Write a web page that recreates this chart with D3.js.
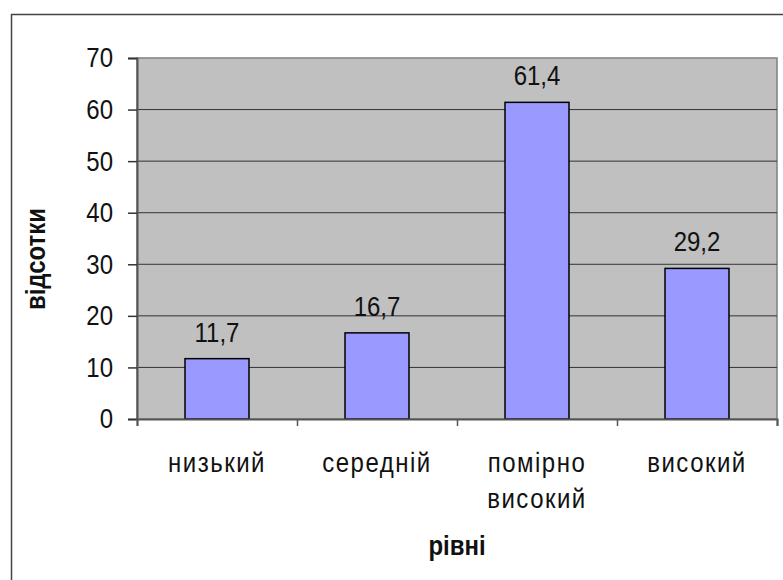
<!DOCTYPE html>
<html>
<head>
<meta charset="utf-8">
<script src="https://cdn.jsdelivr.net/npm/d3@7"></script>
<style>
  body { margin: 0; background: #fff; }
  svg { display: block; font-family: "Liberation Sans", Arial, sans-serif; }
</style>
</head>
<body>
<svg></svg>
<script>
const wSvg = 783, hSvg = 580;

const categories = [["низький"], ["середній"], ["помірно", "високий"], ["високий"]];
const values = [11.7, 16.7, 61.4, 29.2];
const valueLabels = ["11,7", "16,7", "61,4", "29,2"];
const yTicks = [0, 10, 20, 30, 40, 50, 60, 70];

const plot = { left: 137, right: 777, top: 58, bottom: 419 };
const fontSize = 24, stretch = 1.17;   // the old chart's text is slightly taller than wide

const svg = d3.select("svg")
    .attr("width", wSvg)
    .attr("height", hSvg);

// outer chart frame
svg.append("rect")
    .attr("x", 11.5).attr("y", 14.5)
    .attr("width", 800).attr("height", 600)
    .attr("fill", "#fff")
    .attr("stroke", "#444")
    .attr("stroke-width", 1.5);

const x = d3.scaleBand()
    .domain(d3.range(values.length))
    .range([plot.left, plot.right])
    .paddingInner(0.6)
    .paddingOuter(0.3);

const y = d3.scaleLinear()
    .domain([0, 70])
    .range([plot.bottom, plot.top]);

function label(g, tx, ty, str) {
    return g.append("text")
        .attr("transform", `translate(${tx},${ty}) scale(1,${stretch})`)
        .attr("text-anchor", "middle")
        .attr("font-size", fontSize)
        .attr("fill", "#111")
        .text(str);
}

// plot area
svg.append("rect")
    .attr("x", plot.left).attr("y", plot.top)
    .attr("width", plot.right - plot.left).attr("height", plot.bottom - plot.top)
    .attr("fill", "#c0c0c0")
    .attr("stroke", "#808080")
    .attr("stroke-width", 1.5);

// grid lines
svg.append("g")
    .selectAll("line")
    .data(yTicks.filter(d => d > 0 && d < 70))
    .enter()
    .append("line")
    .attr("x1", plot.left).attr("x2", plot.right)
    .attr("y1", d => y(d)).attr("y2", d => y(d))
    .attr("stroke", "#333")
    .attr("stroke-width", 1);

// bars
svg.append("g")
    .selectAll("rect")
    .data(values)
    .enter()
    .append("rect")
    .attr("x", (d, i) => x(i))
    .attr("width", x.bandwidth())
    .attr("y", d => y(d))
    .attr("height", d => y(0) - y(d))
    .attr("fill", "#9999ff")
    .attr("stroke", "#000")
    .attr("stroke-width", 1.5);

// value labels
const valG = svg.append("g");
values.forEach((d, i) => label(valG, x(i) + x.bandwidth() / 2, y(d) - 17, valueLabels[i]));

// y axis
const yAxis = svg.append("g")
    .attr("transform", `translate(${plot.left},0)`)
    .call(d3.axisLeft(y).tickValues(yTicks).tickSize(9).tickPadding(15).tickFormat(d3.format("d")));
yAxis.select(".domain").attr("stroke", "#555").attr("stroke-width", 2);
yAxis.selectAll(".tick line").attr("stroke", "#333").attr("stroke-width", 1.5);
yAxis.selectAll(".tick text")
    .attr("font-size", fontSize)
    .attr("font-family", "Liberation Sans, Arial, sans-serif")
    .attr("transform", `scale(1,${stretch})`)
    .attr("fill", "#111");

// x axis
const xTickScale = d3.scaleLinear().domain([0, values.length]).range([plot.left, plot.right]);
const xAxis = svg.append("g")
    .attr("transform", `translate(0,${plot.bottom})`)
    .call(d3.axisBottom(xTickScale).tickValues(d3.range(values.length + 1)).tickSize(7).tickFormat(""));
xAxis.select(".domain").attr("stroke", "#555").attr("stroke-width", 2);
xAxis.selectAll(".tick line").attr("stroke", "#555").attr("stroke-width", 1.5);

// category labels
const catG = svg.append("g");
categories.forEach((lines, i) => {
    lines.forEach((s, j) => label(catG, x(i) + x.bandwidth() / 2, 472 + j * 36, s)
        .attr("letter-spacing", 1.5));
});

// axis titles
label(svg, (plot.left + plot.right) / 2, 555, "рівні")
    .attr("font-weight", "bold");

svg.append("text")
    .attr("transform", `translate(45,259) rotate(-90) scale(1,${stretch})`)
    .attr("text-anchor", "middle")
    .attr("font-size", fontSize)
    .attr("font-weight", "bold")
    .attr("fill", "#111")
    .text("відсотки");
</script>
</body>
</html>
